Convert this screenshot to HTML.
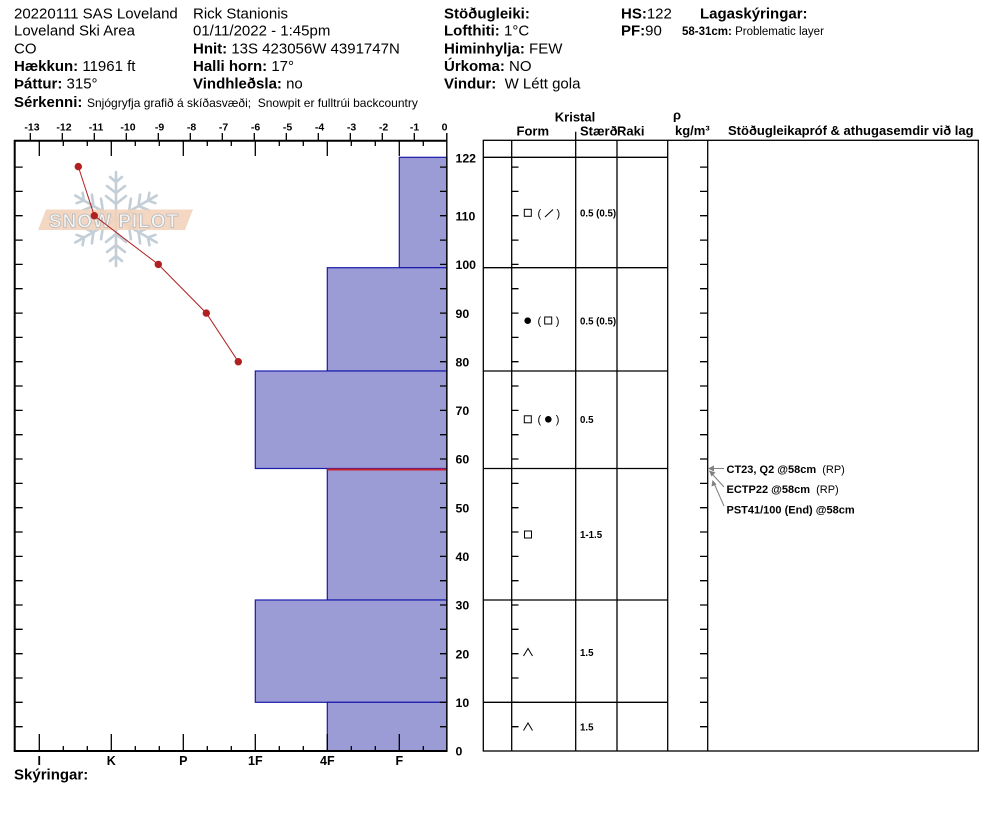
<!DOCTYPE html>
<html><head><meta charset="utf-8"><style>
html,body{margin:0;padding:0;background:#fff;}
svg{display:block;}
text{font-family:"Liberation Sans",Arial,sans-serif;white-space:pre;fill:#000;}
.b{font-weight:bold;}
</style></head><body>
<svg width="994" height="840" viewBox="0 0 994 840" xmlns="http://www.w3.org/2000/svg">
<rect width="994" height="840" fill="#fff"/>

<!-- Header -->
<g font-size="15">
<text x="14" y="18.3">20220111 SAS Loveland</text>
<text x="14" y="35.7">Loveland Ski Area</text>
<text x="14" y="53.3">CO</text>
<text x="14" y="71"><tspan class="b">Hækkun:</tspan> 11961 ft</text>
<text x="14" y="88.3"><tspan class="b">Þáttur:</tspan> 315°</text>

<text x="193" y="18.3">Rick Stanionis</text>
<text x="193" y="35.7">01/11/2022 - 1:45pm</text>
<text x="193" y="53.3"><tspan class="b">Hnit:</tspan> 13S 423056W 4391747N</text>
<text x="193" y="71"><tspan class="b">Halli horn:</tspan> 17°</text>
<text x="193" y="88.3"><tspan class="b">Vindhleðsla:</tspan> no</text>

<text x="444" y="18.3" class="b">Stöðugleiki:</text>
<text x="444" y="35.7"><tspan class="b">Lofthiti:</tspan> 1°C</text>
<text x="444" y="53.3"><tspan class="b">Himinhylja:</tspan> FEW</text>
<text x="444" y="71"><tspan class="b">Úrkoma:</tspan> NO</text>
<text x="444" y="88.3"><tspan class="b">Vindur:</tspan>  W Létt gola</text>

<text x="621" y="18.3"><tspan class="b">HS:</tspan>122</text>
<text x="621" y="35.7"><tspan class="b">PF:</tspan>90</text>
<text x="700" y="18.3" class="b">Lagaskýringar:</text>
<text x="14" y="107"><tspan class="b">Sérkenni:</tspan></text>
</g>
<text x="682" y="35" font-size="11.5"><tspan class="b">58-31cm:</tspan> Problematic layer</text>
<text x="87" y="107" font-size="12">Snjógryfja grafið á skíðasvæði;  Snowpit er fulltrúi backcountry</text>

<!-- Snow pilot logo -->
<g stroke="#c3ced6" stroke-width="2.6" fill="none" stroke-linecap="round">
  <g id="arm">
    <line x1="116" y1="219" x2="116" y2="172"/>
    <polyline points="106,196 116,204 126,196"/>
    <polyline points="107,186 116,193 125,186"/>
    <polyline points="110,177 116,182 122,177"/>
  </g>
  <use href="#arm" transform="rotate(60 116 219)"/>
  <use href="#arm" transform="rotate(120 116 219)"/>
  <use href="#arm" transform="rotate(180 116 219)"/>
  <use href="#arm" transform="rotate(240 116 219)"/>
  <use href="#arm" transform="rotate(300 116 219)"/>
</g>
<polygon points="46,209.5 193,209.5 185,230 38,230" fill="#f2d3bb" opacity="0.9"/>
<text x="114" y="227.5" text-anchor="middle" font-size="19" class="b" fill="#f4f4f4" stroke="#b8b8b8" stroke-width="0.8" letter-spacing="1" style="fill:#f4f4f4">SNOW PILOT</text>

<!-- Hardness bars -->
<g fill="#9b9bd6" stroke="#1a1aaa" stroke-width="1.2">
  <rect x="399.3" y="157.3" width="47.7" height="110.4"/>
  <rect x="327.3" y="267.7" width="119.7" height="103.3"/>
  <rect x="255.3" y="371" width="191.7" height="97.5"/>
  <rect x="327.3" y="469.3" width="119.7" height="130.7"/>
  <rect x="255.3" y="600" width="191.7" height="102.3"/>
  <rect x="327.3" y="702.3" width="119.7" height="48.7"/>
</g>
<line x1="327.3" y1="469.5" x2="447" y2="469.5" stroke="#c8202a" stroke-width="2"/>

<!-- Left chart axes -->
<g stroke="#000" fill="none">
  <line x1="14.7" y1="140" x2="14.7" y2="752" stroke-width="2"/>
  <line x1="14" y1="140.7" x2="447.5" y2="140.7" stroke-width="2"/>
  <line x1="14" y1="751" x2="447.5" y2="751" stroke-width="2"/>
  <line x1="446.8" y1="133" x2="446.8" y2="751" stroke-width="1.4"/>
</g>
<g stroke="#000" stroke-width="1.3">
  <path d="M30.3 133V141 M62.3 133V141 M94.3 133V141 M126.3 133V141 M158.3 133V141 M190.3 133V141 M222.3 133V141 M254.3 133V141 M286.3 133V141 M318.3 133V141 M350.3 133V141 M382.3 133V141 M414.3 133V141"/>
  <path d="M39.3 141V156 M111.3 141V156 M183.3 141V156 M255.3 141V156 M327.3 141V156 M399.3 141V156
  M63.3 141V146 M87.3 141V146 M135.3 141V146 M159.3 141V146 M207.3 141V146 M231.3 141V146 M279.3 141V146 M303.3 141V146 M351.3 141V146 M375.3 141V146 M423.3 141V146"/>
  <path d="M39.3 751V734 M111.3 751V734 M183.3 751V734 M255.3 751V734 M327.3 751V734 M399.3 751V734
  M63.3 751V746 M87.3 751V746 M135.3 751V746 M159.3 751V746 M207.3 751V746 M231.3 751V746 M279.3 751V746 M303.3 751V746 M351.3 751V746 M375.3 751V746 M423.3 751V746"/>
  <path d="M14.7 726.7H22.7 M14.7 702.3H22.7 M14.7 678H22.7 M14.7 653.7H22.7 M14.7 629.3H22.7 M14.7 605H22.7 M14.7 580.7H22.7 M14.7 556.4H22.7 M14.7 532H22.7 M14.7 507.7H22.7 M14.7 483.4H22.7 M14.7 459H22.7 M14.7 434.7H22.7 M14.7 410.4H22.7 M14.7 386H22.7 M14.7 361.7H22.7 M14.7 337.4H22.7 M14.7 313.1H22.7 M14.7 288.7H22.7 M14.7 264.4H22.7 M14.7 240.1H22.7 M14.7 215.7H22.7 M14.7 191.4H22.7 M14.7 167.1H22.7"/>
  <path d="M447 726.7H440 M447 702.3H440 M447 678H440 M447 653.7H440 M447 629.3H440 M447 605H440 M447 580.7H440 M447 556.4H440 M447 532H440 M447 507.7H440 M447 483.4H440 M447 459H440 M447 434.7H440 M447 410.4H440 M447 386H440 M447 361.7H440 M447 337.4H440 M447 313.1H440 M447 288.7H440 M447 264.4H440 M447 240.1H440 M447 215.7H440 M447 191.4H440 M447 167.1H440"/>
</g>

<!-- temperature labels -->
<g font-size="10.5" class="b" text-anchor="middle">
<text x="32" y="130.3">-13</text><text x="64" y="130.3">-12</text><text x="96" y="130.3">-11</text><text x="128" y="130.3">-10</text>
<text x="159.5" y="130.3">-9</text><text x="191.5" y="130.3">-8</text><text x="223.5" y="130.3">-7</text><text x="255.5" y="130.3">-6</text>
<text x="287.5" y="130.3">-5</text><text x="319.5" y="130.3">-4</text><text x="351.5" y="130.3">-3</text><text x="383.5" y="130.3">-2</text>
<text x="414.5" y="130.3">-1</text><text x="444.5" y="130.3">0</text>
</g>

<!-- height labels -->
<g font-size="12.3" class="b">
<text x="455.5" y="162.3">122</text>
<text x="455.5" y="220.4">110</text>
<text x="455.5" y="269.1">100</text>
<text x="455.5" y="317.8">90</text>
<text x="455.5" y="366.4">80</text>
<text x="455.5" y="415.1">70</text>
<text x="455.5" y="463.7">60</text>
<text x="455.5" y="512.4">50</text>
<text x="455.5" y="561.1">40</text>
<text x="455.5" y="609.7">30</text>
<text x="455.5" y="658.4">20</text>
<text x="455.5" y="707">10</text>
<text x="455.5" y="755.7">0</text>
</g>

<!-- hardness labels -->
<g font-size="12.5" class="b" text-anchor="middle">
<text x="39.3" y="765">I</text><text x="111.3" y="765">K</text><text x="183.3" y="765">P</text>
<text x="255.3" y="765">1F</text><text x="327.3" y="765">4F</text><text x="399.3" y="765">F</text>
</g>
<text x="14" y="779.3" font-size="15" class="b">Skýringar:</text>

<!-- temperature profile -->
<polyline points="78.3,166.6 94.3,215.7 158.3,264.4 206.3,313.1 238.3,361.7" fill="none" stroke="#b02020" stroke-width="1"/>
<g fill="#b02020">
<circle cx="78.3" cy="166.6" r="3.7"/><circle cx="94.3" cy="215.7" r="3.7"/><circle cx="158.3" cy="264.4" r="3.7"/>
<circle cx="206.3" cy="313.1" r="3.7"/><circle cx="238.3" cy="361.7" r="3.7"/>
</g>

<!-- Right table headers -->
<g font-size="13" class="b">
<text x="575" y="121.7" text-anchor="middle">Kristal</text>
<text x="516.5" y="135.5">Form</text>
<text x="580" y="135.5">Stærð</text>
<text x="617" y="135.5">Raki</text>
<text x="677" y="119.5" text-anchor="middle">ρ</text>
<text x="675" y="135">kg/m³</text>
<text x="728" y="135">Stöðugleikapróf &amp; athugasemdir við lag</text>
</g>

<!-- Right table lines -->
<g stroke="#000" stroke-width="1.3" fill="none">
  <line x1="575.7" y1="131.7" x2="575.7" y2="140"/>
  <rect x="483.3" y="140.3" width="495" height="610.7"/>
  <line x1="511.7" y1="140.3" x2="511.7" y2="751"/>
  <line x1="575.7" y1="140.3" x2="575.7" y2="751"/>
  <line x1="617" y1="140.3" x2="617" y2="751"/>
  <line x1="667.7" y1="140.3" x2="667.7" y2="751"/>
  <line x1="707.7" y1="140.3" x2="707.7" y2="751"/>
  <path d="M483.3 157.3H667.7 M483.3 267.7H667.7 M483.3 371H667.7 M483.3 468.5H667.7 M483.3 600H667.7 M483.3 702.3H667.7"/>
  <path d="M511.7 726.7H518.5 M511.7 702.3H518.5 M511.7 678H518.5 M511.7 653.7H518.5 M511.7 629.3H518.5 M511.7 605H518.5 M511.7 580.7H518.5 M511.7 556.4H518.5 M511.7 532H518.5 M511.7 507.7H518.5 M511.7 483.4H518.5 M511.7 459H518.5 M511.7 434.7H518.5 M511.7 410.4H518.5 M511.7 386H518.5 M511.7 361.7H518.5 M511.7 337.4H518.5 M511.7 313.1H518.5 M511.7 288.7H518.5 M511.7 264.4H518.5 M511.7 240.1H518.5 M511.7 215.7H518.5 M511.7 191.4H518.5 M511.7 167.1H518.5"/>
  <path d="M707.7 726.7H700 M707.7 702.3H700 M707.7 678H700 M707.7 653.7H700 M707.7 629.3H700 M707.7 605H700 M707.7 580.7H700 M707.7 556.4H700 M707.7 532H700 M707.7 507.7H700 M707.7 483.4H700 M707.7 459H700 M707.7 434.7H700 M707.7 410.4H700 M707.7 386H700 M707.7 361.7H700 M707.7 337.4H700 M707.7 313.1H700 M707.7 288.7H700 M707.7 264.4H700 M707.7 240.1H700 M707.7 215.7H700 M707.7 191.4H700 M707.7 167.1H700"/>
</g>

<!-- Grain forms -->
<g stroke="#000" stroke-width="1" fill="none">
  <rect x="524.3" y="209.3" width="7" height="7"/>
  <rect x="544.7" y="317" width="7" height="7"/>
  <rect x="524.3" y="415.8" width="7" height="7"/>
  <rect x="524.5" y="531" width="7" height="7"/>
  <line x1="545" y1="217" x2="553" y2="209.5"/>
  <polyline points="523.5,656 528,648.5 532.5,656"/>
  <polyline points="523.5,730.5 528,723 532.5,730.5"/>
</g>
<g fill="#000">
  <circle cx="527.7" cy="320.7" r="3.3"/>
  <circle cx="548.3" cy="419.3" r="3.3"/>
</g>
<g font-size="11">
  <text x="537.5" y="216.8">(</text><text x="556.5" y="216.8">)</text>
  <text x="537.5" y="324.5">(</text><text x="555.8" y="324.5">)</text>
  <text x="537.5" y="423.2">(</text><text x="555.8" y="423.2">)</text>
</g>
<g font-size="9.7" class="b">
  <text x="580" y="216.5">0.5 (0.5)</text>
  <text x="580" y="324.5">0.5 (0.5)</text>
  <text x="580" y="423">0.5</text>
  <text x="580" y="538">1-1.5</text>
  <text x="580" y="655.8">1.5</text>
  <text x="580" y="730.5">1.5</text>
</g>

<!-- stability annotations -->
<g stroke="#808080" stroke-width="1" fill="none">
  <line x1="724" y1="468.5" x2="709" y2="468.5"/>
  <line x1="724" y1="487" x2="709.5" y2="471"/>
  <line x1="724" y1="506" x2="713" y2="481"/>
</g>
<g fill="#808080">
  <polygon points="708,468.5 714,465.5 714,471.5"/>
  <polygon points="709,470.5 711.5,476.5 715.5,472.5"/>
  <polygon points="712.5,480 711.5,486.5 716.5,484.5"/>
</g>
<g font-size="11">
  <text x="726.5" y="472.8"><tspan class="b">CT23, Q2 @58cm</tspan>  (RP)</text>
  <text x="726.5" y="493"><tspan class="b">ECTP22 @58cm</tspan>  (RP)</text>
  <text x="726.5" y="513.3" class="b">PST41/100 (End) @58cm</text>
</g>
</svg>
</body></html>
